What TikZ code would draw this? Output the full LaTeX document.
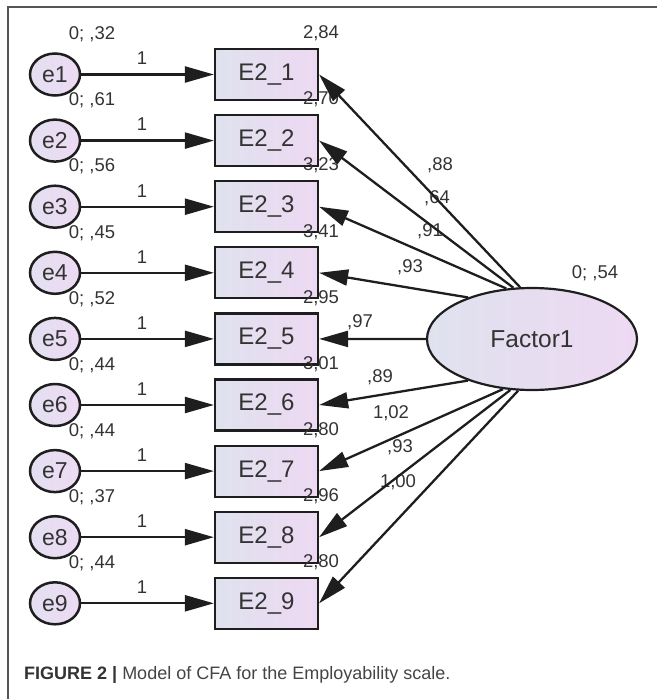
\documentclass[tikz,border=0pt]{standalone}
\usepackage{fontspec}
\setmainfont{Liberation Sans}
\usetikzlibrary{arrows.meta,shapes.geometric}

\definecolor{ink}{HTML}{1E1E1E}
\definecolor{txt}{HTML}{333333}
\definecolor{capt}{HTML}{444444}
\definecolor{framec}{HTML}{555555}
\definecolor{boxl}{HTML}{DFE2EE}
\definecolor{boxr}{HTML}{EED9F3}
\definecolor{errl}{HTML}{E3E0F0}
\definecolor{errr}{HTML}{EDDAF3}

\begin{document}
\begin{tikzpicture}[x=1pt,y=-1pt,
  obsbox/.style={draw=ink, line width=2.2pt, minimum width=103pt, minimum height=51pt,
    inner sep=0pt, left color=boxl, right color=boxr, text=txt,
    font=\fontsize{24}{26}\selectfont},
  errnode/.style={ellipse, draw=ink, line width=2.5pt, minimum width=50pt,
    minimum height=42pt, inner sep=0pt, left color=errl, right color=errr, text=txt,
    font=\fontsize{23}{25}\selectfont},
  latnode/.style={ellipse, draw=ink, line width=2.2pt, minimum width=210pt,
    minimum height=102pt, inner sep=0pt, left color=boxl, right color=boxr, text=txt,
    font=\fontsize{24.5}{26}\selectfont},
  regpath/.style={draw=ink, line width=2.3pt, -{Triangle[length=29pt,width=16pt]}},
  lbl/.style={inner sep=0pt, text=txt, font=\fontsize{18.5}{20}\selectfont},
  framel/.style={draw=framec, line width=1.5pt}]

\useasboundingbox (0,0) rectangle (657,699);

% outer frame (top and left edges)
\draw[framel] (8,699) -- (8,7) -- (657,7);

% latent factor
\node[latnode] (F) at (532,339) {Factor1};
\node[lbl] (Fv) at (595,273) {0; ,54};

% indicators, error terms and their labels
\foreach \i/\ev/\ic in {1/{0; ,32}/{2,84}, 2/{0; ,61}/{2,70}, 3/{0; ,56}/{3,23},
                        4/{0; ,45}/{3,41}, 5/{0; ,52}/{2,95}, 6/{0; ,44}/{3,01},
                        7/{0; ,44}/{2,80}, 8/{0; ,37}/{2,96}, 9/{0; ,44}/{2,80}} {
  \pgfmathsetmacro\yy{74.5+66.1*(\i-1)}
  \node[obsbox] (E\i) at (266.5,\yy) {E2\_\i};
  \node[errnode] (e\i) at (55,\yy) {e\i};
  \node[lbl] (ev\i) at (92,\yy-40) {\ev};
  \node[lbl] (ic\i) at (321,\yy-41) {\ic};
  \node[lbl] (one\i) at (142,\yy-16) {1};
  \draw[regpath] (e\i) -- (E\i);
}

% factor loadings
\node[lbl] (l1) at (440,165) {,88};
\node[lbl] (l2) at (437,198) {,64};
\node[lbl] (l3) at (430,231) {,91};
\node[lbl] (l4) at (410,267) {,93};
\node[lbl] (l5) at (360,322) {,97};
\node[lbl] (l6) at (380,377) {,89};
\node[lbl] (l7) at (391,413) {1,02};
\node[lbl] (l8) at (400,447) {,93};
\node[lbl] (l9) at (398,482) {1,00};

\draw[regpath] (F.103) -- (E1.east);
\draw[regpath] (F.110) -- (E2.east);
\draw[regpath] (F.117) -- (E3.east);
\draw[regpath] (F.147) -- (E4.east);
\draw[regpath] (F.180) -- (E5.east);
\draw[regpath] (F.213) -- (E6.east);
\draw[regpath] (F.240) -- (E7.east);
\draw[regpath] (F.247) -- (E8.east);
\draw[regpath] (F.255) -- (E9.east);

% caption
\node[anchor=base west, inner sep=0pt, text=capt, font=\fontsize{18}{20}\selectfont]
  (cap) at (24,679) {\textbf{\color{txt}FIGURE 2 |} Model of CFA for the Employability scale.};
\end{tikzpicture}
\end{document}
